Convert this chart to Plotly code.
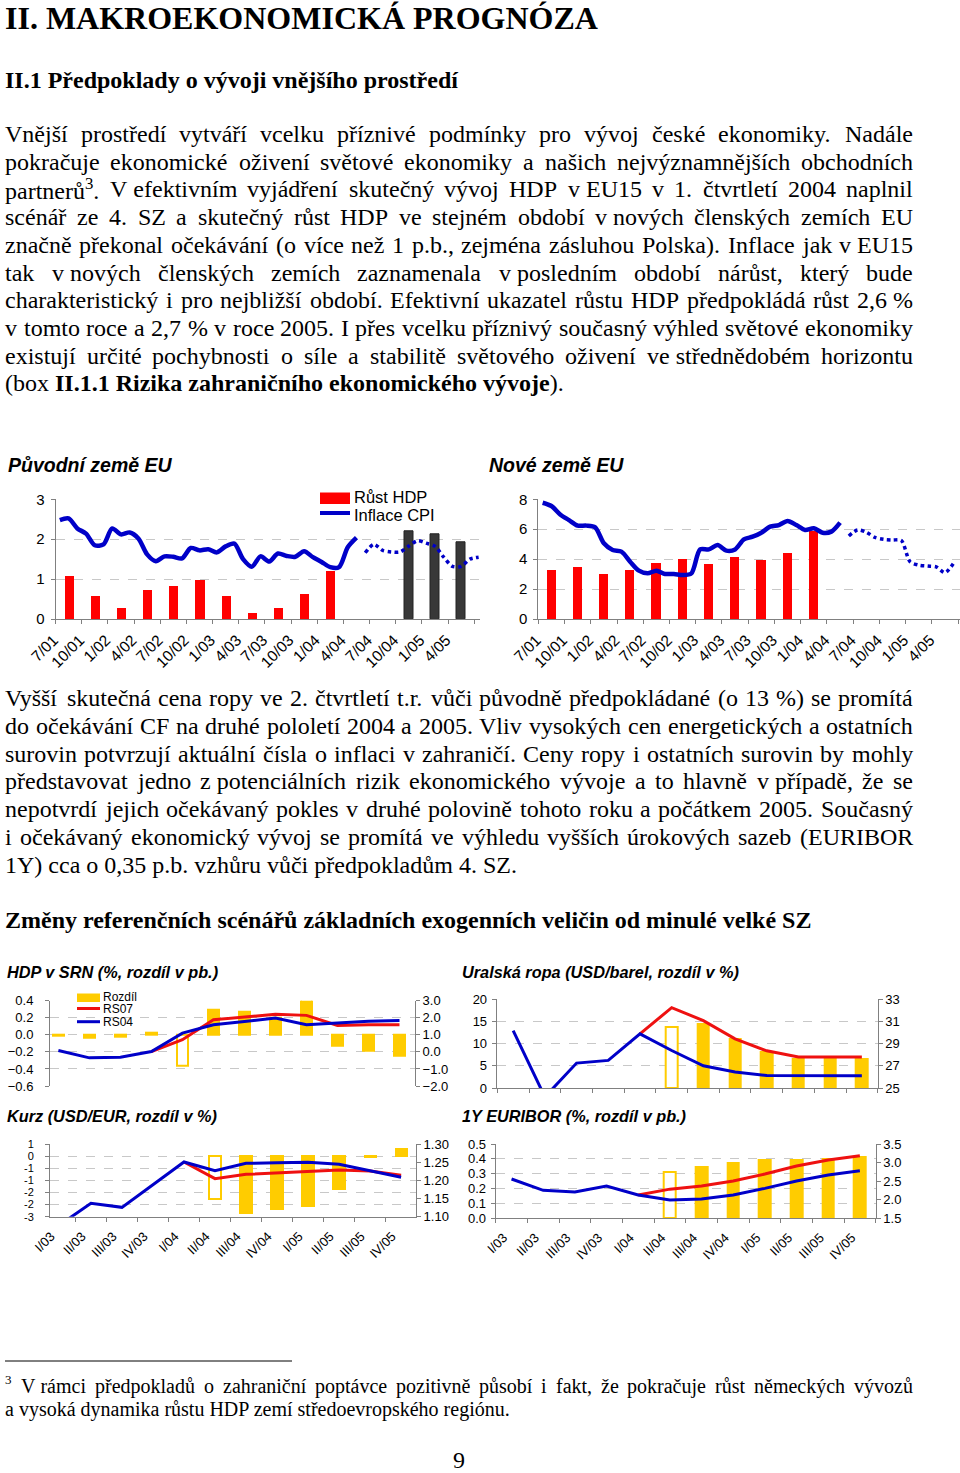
import re
import unicodedata
import plotly.graph_objects as go

W, H = 960, 1473

# ------------------------------------------------------------------ data
periods_q16 = ["7/01", "10/01", "1/02", "4/02", "7/02", "10/02", "1/03", "4/03",
               "7/03", "10/03", "1/04", "4/04", "7/04", "10/04", "1/05", "4/05"]

eu15_gdp = [1.08, 0.58, 0.28, 0.71, 0.82, 0.97, 0.58, 0.14, 0.27, 0.62, 1.20,
            None, None, None, None, None]
eu15_gdp_forecast = [None, None, None, None, None, None, None, None, None, None, None,
                     None, None, 2.19, 2.13, 1.93]
eu15_cpi = [2.48, 2.52, 2.27, 2.14, 1.85, 1.87, 2.27, 2.12, 2.17, 2.02, 1.62, 1.45,
            1.57, 1.56, 1.52, 1.78, 1.72, 1.75, 1.67, 1.82, 1.89, 1.50, 1.31, 1.57,
            1.44, 1.64, 1.58, 1.56, 1.70, 1.55, 1.43, 1.30, 1.30, 1.80, 2.04]
eu15_cpi_forecast = [1.66, 1.87, 1.72, 1.68, 1.68, 1.83, 1.96, 1.90, 1.82, 1.55,
                     1.32, 1.32, 1.50, 1.55]

nms_gdp = [3.27, 3.43, 2.98, 3.23, 3.72, 4.01, 3.65, 4.10, 3.94, 4.39, 5.84,
           None, None, None, None, None]
nms_cpi = [7.77, 7.55, 6.99, 6.61, 6.24, 6.24, 6.12, 5.06, 4.61, 4.50, 3.83, 3.23,
           3.05, 3.23, 3.01, 3.01, 2.94, 3.05, 4.65, 4.65, 4.94, 4.57, 4.65, 5.32,
           5.50, 5.77, 6.17, 6.28, 6.55, 6.28, 5.95, 6.06, 5.77, 5.84, 6.44]
nms_cpi_forecast = [5.55, 5.95, 5.80, 5.45, 5.32, 5.28, 5.25, 3.83, 3.60, 3.54,
                    3.48, 3.10, 3.75]

periods_q12 = ["I/03", "II/03", "III/03", "IV/03", "I/04", "II/04",
               "III/04", "IV/04", "I/05", "II/05", "III/05", "IV/05"]

de_gdp_diff = [-0.01, -0.035, -0.02, 0.03, -0.365, 0.29, 0.27, 0.20, 0.435, -0.125, -0.19, -0.24]
de_gdp_rs07 = [None, None, None, 0.02, 0.71, 1.88, 2.04, 2.20, 2.14, 1.55, 1.59, 1.59]
de_gdp_rs04 = [0.08, -0.35, -0.31, 0.02, 1.10, 1.59, 1.78, 1.98, 1.59, 1.69, 1.80, 1.84]

oil_diff = [None, None, None, None, None, 13.6, 14.3, 11.0, 8.2, 6.5, 6.5, 6.5]
oil_rs07 = [None, None, None, None, 29.87, 32.22, 31.06, 29.42, 28.34, 27.78, 27.78, 27.78]
oil_rs04 = [30.16, 24.2, 27.24, 27.48, 29.87, 28.37, 27.0, 26.43, 26.13, 26.1, 26.1, 26.1]

fx_diff = [None, None, None, None, None, -1.78, -2.33, -2.19, -2.04, -1.34, -0.05, 0.28]
fx_rs07 = [None, None, None, None, 1.2505, 1.2046, 1.2165, 1.221, 1.2239, 1.2284, 1.2257, 1.2138]
fx_rs04 = [1.078, 1.1367, 1.1257, 1.188, 1.2505, 1.2266, 1.2468, 1.2486, 1.2495, 1.244, 1.2266, 1.2083]

euribor_diff = [None, None, None, None, None, 0.309, 0.347, 0.374, 0.39, 0.39, 0.40, 0.414]
euribor_rs07 = [None, None, None, None, 2.12, 2.28, 2.365, 2.5, 2.69, 2.905, 3.07, 3.185]
euribor_rs04 = [2.554, 2.248, 2.203, 2.365, 2.12, 1.986, 2.013, 2.12, 2.30, 2.5, 2.66, 2.78]

fx_left_tickvals = [-2.5, -2.0, -1.5, -1.0, -0.5, 0.0, 0.5]
fx_left_ticktext = ["-3", "-2", "-2", "-1", "-1", "0", "1"]

# ------------------------------------------------------------------ text
TITLE = "II. MAKROEKONOMICKÁ PROGNÓZA"
SECTION = "II.1 Předpoklady o vývoji vnějšího prostředí"
NB = "\u00a0"
P1 = [
    "Vnější prostředí vytváří vcelku příznivé podmínky pro vývoj české ekonomiky. Nadále",
    "pokračuje ekonomické oživení světové ekonomiky a našich nejvýznamnějších obchodních",
    f"partnerů<sup>3</sup>. V{NB}efektivním vyjádření skutečný vývoj HDP v{NB}EU15 v 1. čtvrtletí 2004 naplnil",
    f"scénář ze 4. SZ a skutečný růst HDP ve stejném období v{NB}nových členských zemích EU",
    f"značně překonal očekávání (o více než 1 p.b., zejména zásluhou Polska). Inflace jak v{NB}EU15",
    f"tak v{NB}nových členských zemích zaznamenala v{NB}posledním období nárůst, který bude",
    f"charakteristický i pro nejbližší období. Efektivní ukazatel růstu HDP předpokládá růst 2,6{NB}%",
    "v tomto roce a 2,7 % v roce 2005. I přes vcelku příznivý současný výhled světové ekonomiky",
    f"existují určité pochybnosti o síle a stabilitě světového oživení ve{NB}střednědobém horizontu",
    "(box <b>II.1.1 Rizika zahraničního ekonomického vývoje</b>).",
]
P2 = [
    "Vyšší skutečná cena ropy ve 2. čtvrtletí t.r. vůči původně předpokládané (o 13 %) se promítá",
    "do očekávání CF na druhé pololetí 2004 a 2005. Vliv vysokých cen energetických a ostatních",
    "surovin potvrzují aktuální čísla o inflaci v zahraničí. Ceny ropy i ostatních surovin by mohly",
    f"představovat jedno z{NB}potenciálních rizik ekonomického vývoje a to hlavně v{NB}případě, že se",
    "nepotvrdí jejich očekávaný pokles v druhé polovině tohoto roku a počátkem 2005. Současný",
    "i očekávaný ekonomický vývoj se promítá ve výhledu vyšších úrokových sazeb (EURIBOR",
    "1Y) cca o 0,35 p.b. vzhůru vůči předpokladům 4. SZ.",
]
HEADING2 = "Změny referenčních scénářů základních exogenních veličin od minulé velké SZ"
FOOT = [
    f"<sup>3</sup> V{NB}rámci předpokladů o zahraniční poptávce pozitivně působí i fakt, že pokračuje růst německých vývozů",
    "a vysoká dynamika růstu HDP zemí středoevropského regiónu.",
]

# ------------------------------------------------------------------ helpers
TR = dict(zip("abcdefghijklmnopqrstuvwxyz",
              [444, 500, 444, 500, 444, 333, 500, 500, 278, 278, 500, 278, 778, 500, 500,
               500, 500, 333, 389, 278, 500, 500, 722, 500, 500, 444]))
TR.update(zip("ABCDEFGHIJKLMNOPQRSTUVWXYZ",
              [722, 667, 667, 722, 611, 556, 722, 722, 333, 389, 722, 611, 889, 722, 722,
               556, 722, 667, 556, 611, 722, 722, 944, 722, 722, 611]))
TR.update({c: 500 for c in "0123456789"})
TR.update({" ": 250, NB: 250, ".": 250, ",": 250, "(": 333, ")": 333, "%": 833,
           "-": 333, "/": 278, ":": 278, ";": 278})


def text_width(s, size):
    w = 0.0
    scale = 1.0
    for part in re.split(r"(<[^>]+>)", s):
        if part == "<sup>":
            scale = 0.7
            continue
        if part == "</sup>":
            scale = 1.0
            continue
        if part.startswith("<"):
            continue
        for ch in part:
            base = unicodedata.normalize("NFD", ch)[0]
            w += TR.get(base, 500) * scale
    return w * size / 1000.0


def px(x):
    return x / W


def py(y):
    return 1 - y / H


annotations = []
shapes = []


def ann(text, x, y, size, family="Liberation Serif", xanchor="left", yanchor="middle"):
    annotations.append(dict(text=text, x=px(x), y=py(y), xref="paper", yref="paper",
                            showarrow=False, xanchor=xanchor, yanchor=yanchor,
                            borderpad=0, borderwidth=0,
                            font=dict(family=family, size=size, color="black")))


LEFT = 5


def text_line(text, y, size, x0=LEFT, x1=913, justify=True):
    if not justify:
        ann(text, x0, y, size)
        return
    words = text.split(" ")
    widths = [text_width(w, size) for w in words]
    gap = (x1 - x0 - sum(widths)) / (len(words) - 1)
    x = x0
    for w, wd in zip(words, widths):
        m = re.fullmatch(r"<sup>(.*)</sup>", w)
        if m:  # a stand-alone superscript (footnote mark): raise it and shrink it
            ann(m.group(1), x, y - 0.32 * size, size * 0.65)
        else:
            ann(w, x, y, size)
        x += wd + gap


# page text
ann(f"<b>{TITLE}</b>", LEFT, 18, 32)
ann(f"<b>{SECTION}</b>", LEFT, 80, 24)
for i, line in enumerate(P1):
    text_line(line, 134 + 27.7 * i, 24, justify=(i < len(P1) - 1))
for i, line in enumerate(P2):
    text_line(line, 698 + 27.8 * i, 24, justify=(i < len(P2) - 1))
ann(f"<b>{HEADING2}</b>", LEFT, 920, 24)
for i, line in enumerate(FOOT):
    text_line(line, 1386 + 23 * i, 20, justify=(i < len(FOOT) - 1))
ann("9", 459, 1473, 24, xanchor="center", yanchor="bottom")
shapes.append(dict(type="line", xref="paper", yref="paper", x0=px(LEFT), x1=px(292),
                   y0=py(1361), y1=py(1361), line=dict(color="black", width=1)))

# chart titles
SANS = "Liberation Sans"
ann("<b><i>Původní země EU</i></b>", 8, 465, 19.5, family=SANS)
ann("<b><i>Nové země EU</i></b>", 489, 465, 19.5, family=SANS)
ann("<b><i>HDP v SRN (%, rozdíl v pb.)</i></b>", 7, 972, 16.3, family=SANS)
ann("<b><i>Uralská ropa (USD/barel, rozdíl v %)</i></b>", 462, 972, 16.3, family=SANS)
ann("<b><i>Kurz (USD/EUR, rozdíl v %)</i></b>", 7, 1116, 16.3, family=SANS)
ann("<b><i>1Y EURIBOR (%, rozdíl v pb.)</i></b>", 462, 1116, 16.3, family=SANS)

# ------------------------------------------------------------------ colours
RED = "#FF0000"
DARK = "#383838"
BLUE = "#0000C8"
LRED = "#EE1111"
YEL = "#FFCC00"
GRID = "#C8C8C8"
AXC = "#808080"

fig = go.Figure()


def xdom(l, r):
    return [max(0.0, px(l)), min(1.0, px(r))]


def ydom(t, b):
    return [py(b), py(t)]


def xaxis_cfg(dom, rng, labels, anchor, size, show_labels=True, show_line=True,
              shift=0, standoff=0):
    n = len(labels)
    d = dict(domain=dom, range=rng, anchor=anchor, tickmode="array",
             tickvals=list(range(n)), ticktext=labels, showticklabels=show_labels,
             tickangle=-45, ticks="", tickfont=dict(family=SANS, size=size, color="black"),
             showgrid=False, zeroline=False, showline=show_line, linecolor=AXC, linewidth=1,
             fixedrange=True, automargin=False, ticklabeloverflow="allow")
    if show_line:
        d["minor"] = dict(tickmode="array", tickvals=[i - 0.5 for i in range(n + 1)],
                          ticks="outside", ticklen=4, tickcolor=AXC, showgrid=False)
    if shift:
        d["ticklabelshift"] = shift
    if standoff:
        d["ticklabelstandoff"] = standoff
    return d


def yaxis_cfg(dom, rng, tickvals, anchor, size, fmt=None, ticktext=None, side="left",
              overlay=None, grid=True, standoff=0):
    d = dict(range=rng, anchor=anchor, tickmode="array", tickvals=tickvals,
             side=side, ticks="outside", ticklen=4, tickcolor=AXC,
             tickfont=dict(family=SANS, size=size, color="black"),
             showline=True, linecolor=AXC, linewidth=1, zeroline=False,
             showgrid=grid, gridcolor=GRID, griddash="dash", gridwidth=1, fixedrange=True,
             automargin=False)
    if ticktext is not None:
        d["ticktext"] = ticktext
    if fmt:
        d["tickformat"] = fmt
    if standoff:
        d["ticklabelstandoff"] = standoff
    if overlay:
        d["overlaying"] = overlay
    else:
        d["domain"] = dom
    return d


# ------------------------------------------------------------------ chart 1 & 2
def month_pos(n, offset=0):
    return [(m + offset - 1) / 3 for m in range(n)]


cat16 = list(range(len(periods_q16)))

fig.add_trace(go.Bar(x=cat16, y=eu15_gdp, width=0.35, marker=dict(color=RED, line_width=0),
                     xaxis="x", yaxis="y", name="Růst HDP"))
fig.add_trace(go.Bar(x=cat16, y=eu15_gdp_forecast, width=0.35,
                     marker=dict(color=DARK, line=dict(color="#222222", width=1)),
                     xaxis="x", yaxis="y"))
fig.add_trace(go.Scatter(x=month_pos(len(eu15_cpi)), y=eu15_cpi, mode="lines",
                         line=dict(color=BLUE, width=4.5, shape="spline", smoothing=0.8),
                         xaxis="x", yaxis="y", name="Inflace CPI"))
fig.add_trace(go.Scatter(x=month_pos(len(eu15_cpi_forecast), len(eu15_cpi)), y=eu15_cpi_forecast,
                         mode="lines", line=dict(color=BLUE, width=3.5, dash="dot", shape="spline",
                                                 smoothing=0.8),
                         xaxis="x", yaxis="y"))

fig.add_trace(go.Bar(x=cat16, y=nms_gdp, width=0.35, marker=dict(color=RED, line_width=0),
                     xaxis="x2", yaxis="y2"))
fig.add_trace(go.Scatter(x=month_pos(len(nms_cpi)), y=nms_cpi, mode="lines",
                         line=dict(color=BLUE, width=4.5, shape="spline", smoothing=0.8),
                         xaxis="x2", yaxis="y2"))
fig.add_trace(go.Scatter(x=month_pos(len(nms_cpi_forecast), len(nms_cpi)), y=nms_cpi_forecast,
                         mode="lines", line=dict(color=BLUE, width=3.5, dash="dot", shape="spline",
                                                 smoothing=0.8),
                         xaxis="x2", yaxis="y2"))

# ------------------------------------------------------------------ charts 3-6
cat12 = list(range(len(periods_q12)))


def diff_chart(xa, yl, yr, diff, rs07, rs04, hollow):
    fill = [("white" if i == hollow else YEL) for i in cat12]
    fig.add_trace(go.Bar(x=cat12, y=diff, width=0.36,
                         marker=dict(color=fill, line=dict(color=YEL, width=2)),
                         xaxis=xa, yaxis=yl))
    fig.add_trace(go.Scatter(x=cat12, y=rs07, mode="lines", line=dict(color=LRED, width=3),
                             xaxis=xa, yaxis=yr))
    fig.add_trace(go.Scatter(x=cat12, y=rs04, mode="lines", line=dict(color=BLUE, width=3),
                             xaxis=xa, yaxis=yr))


diff_chart("x3", "y3", "y4", de_gdp_diff, de_gdp_rs07, de_gdp_rs04, 4)
diff_chart("x4", "y5", "y6", oil_diff, oil_rs07, oil_rs04, 5)
diff_chart("x5", "y7", "y8", fx_diff, fx_rs07, fx_rs04, 5)
diff_chart("x6", "y9", "y10", euribor_diff, euribor_rs07, euribor_rs04, 5)

# ------------------------------------------------------------------ legends (manual)
shapes.append(dict(type="rect", xref="paper", yref="paper", x0=px(320), x1=px(350),
                   y0=py(504), y1=py(492.5), fillcolor=RED, line_width=0))
shapes.append(dict(type="line", xref="paper", yref="paper", x0=px(320), x1=px(350),
                   y0=py(513), y1=py(513), line=dict(color=BLUE, width=4)))
ann("Růst HDP", 354, 497, 16.5, family=SANS)
ann("Inflace CPI", 354, 515, 16.5, family=SANS)

shapes.append(dict(type="rect", xref="paper", yref="paper", x0=px(77), x1=px(100),
                   y0=py(1002), y1=py(993.5), fillcolor=YEL, line_width=0))
shapes.append(dict(type="line", xref="paper", yref="paper", x0=px(77), x1=px(100),
                   y0=py(1008.5), y1=py(1008.5), line=dict(color=LRED, width=3)))
shapes.append(dict(type="line", xref="paper", yref="paper", x0=px(77), x1=px(100),
                   y0=py(1021.7), y1=py(1021.7), line=dict(color=BLUE, width=3)))
ann("Rozdíl", 103, 996.5, 12, family=SANS)
ann("RS07", 103, 1009.3, 12, family=SANS)
ann("RS04", 103, 1022.3, 12, family=SANS)

# ------------------------------------------------------------------ layout
layout = dict(
    width=W, height=H, autosize=False,
    margin=dict(l=0, r=0, t=0, b=0, pad=0, autoexpand=False),
    paper_bgcolor="white", plot_bgcolor="white",
    showlegend=False, barmode="overlay", bargap=0,
    annotations=annotations, shapes=shapes,
    xaxis=xaxis_cfg(xdom(55.5, 479.5), [-0.5, 15.7], periods_q16, "y", 15.5,
                    shift=-15, standoff=5),
    yaxis=yaxis_cfg(ydom(499.3, 619), [0, 3], [0, 1, 2, 3], "x", 15, standoff=3),
    xaxis2=xaxis_cfg(xdom(538.3, 960), [-0.5, 15.57], periods_q16, "y2", 15.5,
                     shift=-15, standoff=5),
    yaxis2=yaxis_cfg(ydom(499.3, 619), [0, 8], [0, 2, 4, 6, 8], "x2", 15, standoff=3),
    xaxis3=xaxis_cfg(xdom(50, 415), [-0.27, 11.5], periods_q12, "y3", 12,
                     show_labels=False, show_line=False),
    yaxis3=yaxis_cfg(ydom(1000.7, 1086), [-0.6, 0.4], [-0.6, -0.4, -0.2, 0, 0.2, 0.4], "x3", 13,
                     fmt=".1f", standoff=9),
    yaxis4=yaxis_cfg(None, [-2, 3], [-2, -1, 0, 1, 2, 3], "x3", 13, fmt=".1f", side="right",
                     overlay="y3", grid=False),
    xaxis4=xaxis_cfg(xdom(496.7, 877.7), [-0.52, 11.5], periods_q12, "y5", 12,
                     show_labels=False),
    yaxis5=yaxis_cfg(ydom(999, 1088), [0, 20], [0, 5, 10, 15, 20], "x4", 13, standoff=2),
    yaxis6=yaxis_cfg(None, [25, 33], [25, 27, 29, 31, 33], "x4", 13, side="right",
                     overlay="y5", grid=False),
    xaxis5=xaxis_cfg(xdom(50, 416), [-0.32, 11.48], periods_q12, "y7", 13, shift=-9,
                     standoff=6),
    yaxis7=yaxis_cfg(ydom(1144, 1216.7), [-2.5, 0.5], fx_left_tickvals, "x5", 11,
                     ticktext=fx_left_ticktext, standoff=9),
    yaxis8=yaxis_cfg(None, [1.10, 1.30], [1.10, 1.15, 1.20, 1.25, 1.30], "x5", 13, fmt=".2f",
                     side="right", overlay="y7", grid=False),
    xaxis6=xaxis_cfg(xdom(495.7, 875.7), [-0.5, 11.5], periods_q12, "y9", 13, shift=-8,
                     standoff=6),
    yaxis9=yaxis_cfg(ydom(1144, 1218), [0, 0.5], [0, 0.1, 0.2, 0.3, 0.4, 0.5], "x6", 13,
                     fmt=".1f", standoff=2),
    yaxis10=yaxis_cfg(None, [1.5, 3.5], [1.5, 2.0, 2.5, 3.0, 3.5], "x6", 13, fmt=".1f",
                      side="right", overlay="y9", grid=False),
)
fig.update_layout(**layout)

fig.write_html("out.html", config={"displayModeBar": False},
               post_script="document.body.style.margin='0';")
